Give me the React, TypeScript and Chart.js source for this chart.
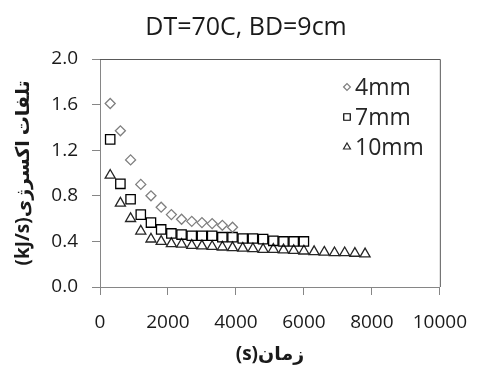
import React, { useEffect, useRef } from "react";
import { Chart, registerables } from "chart.js";
import { drawPoint } from "chart.js/helpers";

Chart.register(...registerables);

const chartTitle = "DT=70C, BD=9cm";
const xAxisTitle = "(s)زمان";
const yAxisTitle = "(kJ/s)تلفات اکسرژی";
const seriesNames = ["4mm", "7mm", "10mm"];

const time4mm = [300, 600, 900, 1200, 1500, 1800, 2100, 2400, 2700, 3000, 3300, 3600, 3900];
const loss4mm = [1.61, 1.37, 1.115, 0.9, 0.8, 0.7, 0.635, 0.594, 0.576, 0.565, 0.556, 0.541, 0.524];

const time7mm = [300, 600, 900, 1200, 1500, 1800, 2100, 2400, 2700, 3000, 3300, 3600, 3900, 4200, 4500, 4800, 5100, 5400, 5700, 6000];
const loss7mm = [1.295, 0.905, 0.77, 0.635, 0.565, 0.505, 0.47, 0.46, 0.45, 0.45, 0.45, 0.437, 0.437, 0.425, 0.425, 0.42, 0.405, 0.4, 0.4, 0.4];

const time10mm = [300, 600, 900, 1200, 1500, 1800, 2100, 2400, 2700, 3000, 3300, 3600, 3900, 4200, 4500, 4800, 5100, 5400, 5700, 6000, 6300, 6600, 6900, 7200, 7500, 7800];
const loss10mm = [0.98, 0.735, 0.6, 0.49, 0.42, 0.4, 0.38, 0.375, 0.365, 0.36, 0.355, 0.35, 0.345, 0.34, 0.335, 0.33, 0.33, 0.325, 0.32, 0.315, 0.31, 0.305, 0.3, 0.3, 0.295, 0.29];

const xTicks = [0, 2000, 4000, 6000, 8000, 10000];
const yTicks = [0, 0.4, 0.8, 1.2, 1.6, 2.0];

const FONT = "'Open Sans', 'DejaVu Sans', sans-serif";
const AXIS_GRAY = "#868686";

const markerStyles = [
  { pointStyle: "rectRot", radius: 5, color: "#7f7f7f", legendRadius: 3.4 },
  { pointStyle: "rect", radius: 6.6, color: "#000000", legendRadius: 4.6 },
  { pointStyle: "triangle", radius: 5.8, color: "#262626", legendRadius: 4 },
];

const decorPlugin = {
  id: "decor",
  afterDraw(chart: any) {
    const { ctx, chartArea } = chart;
    const { left, right, top, bottom } = chartArea;
    ctx.save();
    ctx.strokeStyle = "#595959";
    ctx.lineWidth = 1;
    ctx.beginPath();
    ctx.moveTo(left, top + 0.5);
    ctx.lineTo(right + 0.5, top + 0.5);
    ctx.lineTo(right + 0.5, bottom);
    ctx.stroke();

    ctx.fillStyle = "#1a1a1a";
    ctx.font = `25px ${FONT}`;
    ctx.textAlign = "center";
    ctx.textBaseline = "alphabetic";
    ctx.fillText(chartTitle, 246, 35);

    ctx.font = `23px ${FONT}`;
    ctx.textAlign = "left";
    ctx.textBaseline = "middle";
    const rows = [87, 117, 147];
    seriesNames.forEach((name, i) => {
      const m = markerStyles[i];
      ctx.save();
      ctx.strokeStyle = m.color;
      ctx.fillStyle = "rgba(0,0,0,0)";
      ctx.lineWidth = 1.2;
      drawPoint(ctx, { pointStyle: m.pointStyle, radius: m.legendRadius, rotation: 0, borderWidth: 1.2 }, 347, rows[i]);
      ctx.restore();
      ctx.fillStyle = "#262626";
      ctx.fillText(name, 355, rows[i] + 1);
    });
    ctx.restore();
  },
};

function toPoints(xs: number[], ys: number[]) {
  return xs.map((x, i) => ({ x, y: ys[i] }));
}

export default function App() {
  const canvasRef = useRef<HTMLCanvasElement | null>(null);

  useEffect(() => {
    if (!canvasRef.current) return;
    const seriesData = [
      toPoints(time4mm, loss4mm),
      toPoints(time7mm, loss7mm),
      toPoints(time10mm, loss10mm),
    ];
    const chart = new Chart(canvasRef.current, {
      type: "scatter",
      data: {
        datasets: seriesNames.map((name, i) => ({
          label: name,
          data: seriesData[i],
          showLine: false,
          pointStyle: markerStyles[i].pointStyle as any,
          pointRadius: markerStyles[i].radius,
          pointHoverRadius: markerStyles[i].radius,
          pointBorderColor: markerStyles[i].color,
          pointBackgroundColor: "rgba(0,0,0,0)",
          pointBorderWidth: 1.3,
        })),
      },
      options: {
        animation: false,
        responsive: false,
        events: [],
        layout: { padding: { left: 0, right: 33, top: 59, bottom: 0 } },
        plugins: {
          legend: { display: false },
          title: { display: false },
          tooltip: { enabled: false },
        },
        scales: {
          x: {
            type: "linear",
            min: 0,
            max: 10000,
            afterFit: (scale: any) => {
              scale.height = 79;
            },
            afterBuildTicks: (scale: any) => {
              scale.ticks = xTicks.map((v) => ({ value: v }));
            },
            ticks: {
              padding: 16,
              color: "#1a1a1a",
              font: { family: FONT, size: 19 },
              maxRotation: 0,
              callback: (v: any) => String(v),
            },
            grid: {
              drawOnChartArea: false,
              drawTicks: true,
              tickLength: 8,
              tickColor: AXIS_GRAY,
            },
            border: { display: true, color: AXIS_GRAY, width: 1 },
            title: {
              display: true,
              text: xAxisTitle,
              color: "#1a1a1a",
              font: { family: FONT, size: 19, weight: "bold" },
              padding: { top: 0, bottom: 0 },
            },
          },
          y: {
            type: "linear",
            min: 0,
            max: 2,
            afterFit: (scale: any) => {
              scale.width = 100;
            },
            afterBuildTicks: (scale: any) => {
              scale.ticks = yTicks.map((v) => ({ value: v }));
            },
            ticks: {
              padding: 14,
              color: "#1a1a1a",
              font: { family: FONT, size: 19 },
              callback: (v: any) => Number(v).toFixed(1),
            },
            grid: {
              drawOnChartArea: false,
              drawTicks: true,
              tickLength: 8,
              tickColor: AXIS_GRAY,
            },
            border: { display: true, color: AXIS_GRAY, width: 1 },
            title: {
              display: true,
              text: yAxisTitle,
              color: "#1a1a1a",
              font: { family: FONT, size: 19, weight: "bold" },
              padding: { top: 12, bottom: 0 },
            },
          },
        },
      },
      plugins: [decorPlugin],
    });
    return () => chart.destroy();
  }, []);

  return (
    <div style={{ position: "fixed", left: 0, top: 0, width: 483, height: 366, background: "#fff" }}>
      <canvas ref={canvasRef} width={483} height={366} style={{ display: "block", width: 483, height: 366 }} />
    </div>
  );
}
